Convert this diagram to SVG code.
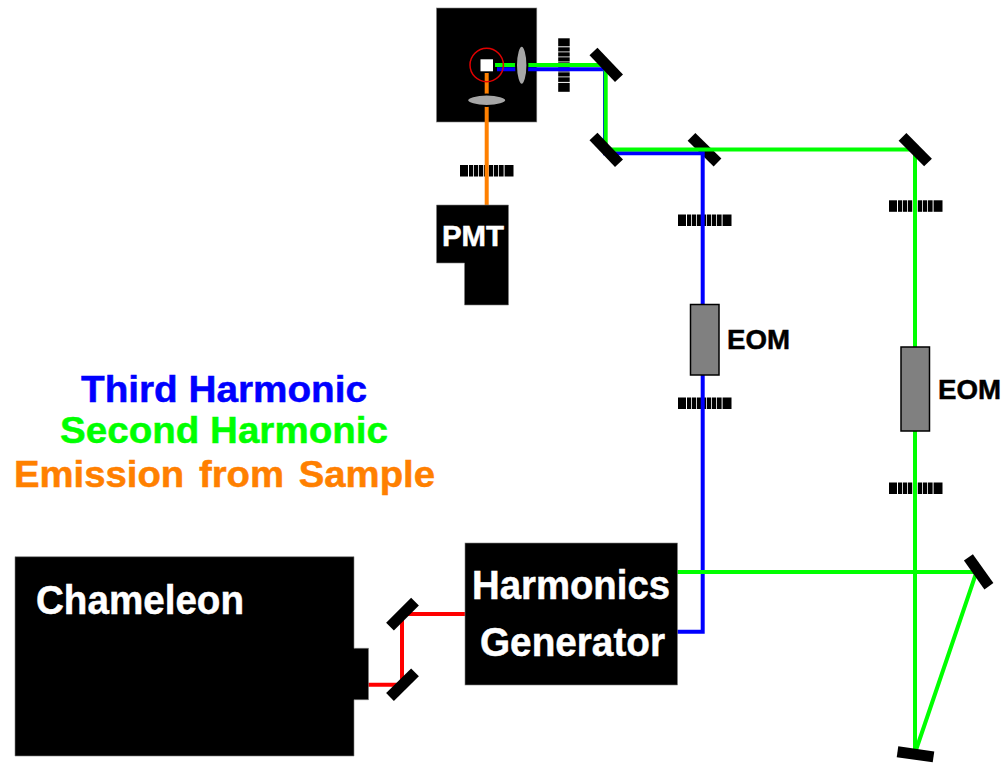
<svg xmlns="http://www.w3.org/2000/svg" width="1008" height="763" viewBox="0 0 1008 763">
<style>
text{font-family:"Liberation Sans",Arial,sans-serif;font-weight:bold;stroke-width:.5}
.w{fill:#fff;stroke:#fff}
.k{fill:#000;stroke:#000}
.box{fill:#000;stroke:#808080;stroke-width:.6}
.m{stroke:#000;stroke-width:11;fill:none}
.b{fill:none;stroke-width:4;stroke-linejoin:miter}
.eom{fill:#808080;stroke:#000;stroke-width:1.5}
.lens{fill:#a6a6a6;stroke:#000;stroke-width:2}
</style>
<defs>
<g id="grating">
<rect x="0" y="0" width="8" height="11.5"/>
<rect x="9" y="0" width="4.2" height="11.5"/>
<rect x="14" y="0" width="4.2" height="11.5"/>
<rect x="19" y="0" width="4.2" height="11.5"/>
<rect x="24" y="0" width="4.2" height="11.5"/>
<rect x="29" y="0" width="4.2" height="11.5"/>
<rect x="34" y="0" width="4.2" height="11.5"/>
<rect x="39" y="0" width="4.6" height="11.5"/>
<rect x="44.6" y="0" width="8.9" height="11.5"/>
</g>
</defs>
<rect width="1008" height="763" fill="#fff"/>
<g id="scan-box"><rect class="box" x="436.5" y="8" width="100.3" height="114"/></g>
<g id="splitter"><line class="m" x1="691.5" y1="136.8" x2="717.5" y2="162.5"/></g>
<g id="gratings">
<use href="#grating" x="460" y="165"/>
<use href="#grating" x="678" y="214.5"/>
<use href="#grating" x="678" y="397.5"/>
<use href="#grating" x="889" y="200.3"/>
<use href="#grating" x="889" y="482.5"/>
<use href="#grating" transform="translate(569.7,38.3) rotate(90)"/>
</g>
<g id="connectors">
<path class="b" stroke="#ff0000" d="M368,684.7 H402 V614 H465"/>
<path class="b" stroke="#0000ff" d="M497,69.3 H605 V153.3 H702.7 V631.7 H677"/>
<path class="b" stroke="#00ff00" d="M495,65 H605.7 V149.5 H915 V750"/>
<path class="b" stroke="#00ff00" d="M677,572 H976.5 L916,750"/>
<path class="b" stroke="#ff8000" d="M486.7,73 V207"/>
</g>
<g id="sample">
<circle cx="486.7" cy="65" r="16.7" fill="none" stroke="#e00000" stroke-width="1.5"/>
<rect x="480.5" y="59.3" width="12.5" height="12" fill="#fff"/>
</g>
<g id="lens-1"><ellipse class="lens" cx="521.7" cy="65.3" rx="5.7" ry="19.5"/></g>
<g id="lens-2"><ellipse class="lens" cx="486.7" cy="100.3" rx="19.5" ry="5.7"/></g>
<g id="mirrors">
<line class="m" x1="593.5" y1="51.5" x2="619" y2="78.2"/>
<line class="m" x1="593.5" y1="136.5" x2="619" y2="163.2"/>
<line class="m" x1="902.5" y1="136.8" x2="928" y2="162.5"/>
<line class="m" x1="390" y1="626.6" x2="415" y2="601.7"/>
<line class="m" x1="390" y1="697" x2="415" y2="672.4"/>
<line class="m" x1="968.4" y1="557.4" x2="988.9" y2="586.3"/>
<line class="m" x1="897.5" y1="751.8" x2="933.5" y2="756.9"/>
</g>
<g id="pmt">
<path class="box" d="M436.5,205 H508.5 V305 H464.5 V263 H436.5 Z"/>
<text class="w" x="442" y="246" font-size="29" textLength="62" lengthAdjust="spacingAndGlyphs">PMT</text>
</g>
<g id="eom-1">
<rect class="eom" x="690.5" y="304.5" width="28.5" height="70.5"/>
<text class="k" x="727" y="349" font-size="28" textLength="63" lengthAdjust="spacingAndGlyphs">EOM</text>
</g>
<g id="eom-2">
<rect class="eom" x="901" y="347" width="28.5" height="84"/>
<text class="k" x="938" y="399" font-size="28" textLength="63" lengthAdjust="spacingAndGlyphs">EOM</text>
</g>
<g id="legend">
<text x="81" y="401.7" font-size="37.5" fill="#0000ff" stroke="#0000ff" textLength="286" lengthAdjust="spacingAndGlyphs">Third Harmonic</text>
<text x="60" y="443.3" font-size="37.5" fill="#00ff00" stroke="#00ff00" textLength="328" lengthAdjust="spacingAndGlyphs">Second Harmonic</text>
<text x="14" y="487.3" font-size="37.5" fill="#ff8000" stroke="#ff8000" textLength="421" lengthAdjust="spacingAndGlyphs" word-spacing="4">Emission from Sample</text>
</g>
<g id="chameleon">
<path class="box" d="M15,556.7 H354 V648.3 H368.5 V699.7 H354 V756 H15 Z"/>
<text class="w" x="36" y="614" font-size="40" textLength="208" lengthAdjust="spacingAndGlyphs">Chameleon</text>
</g>
<g id="harmonics-generator">
<rect class="box" x="465" y="543" width="212.5" height="142"/>
<text class="w" x="472" y="599.3" font-size="40" textLength="198" lengthAdjust="spacingAndGlyphs">Harmonics</text>
<text class="w" x="480" y="655.7" font-size="40" textLength="185" lengthAdjust="spacingAndGlyphs">Generator</text>
</g>
</svg>
